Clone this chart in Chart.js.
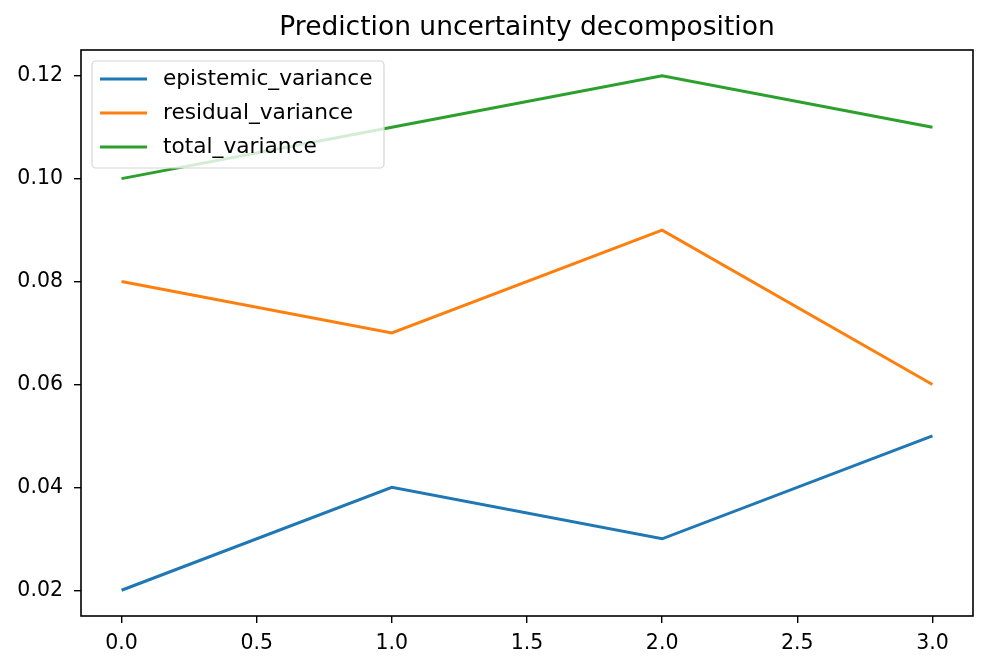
<!DOCTYPE html>
<html>
<head>
<meta charset="utf-8">
<script src="https://cdn.jsdelivr.net/npm/chart.js@4/dist/chart.umd.min.js"></script>
<style>
  html, body { margin: 0; padding: 0; background: #fff; }
  #wrap { width: 989px; height: 670px; }
</style>
</head>
<body>
<div id="wrap"><canvas id="chart"></canvas></div>
<script>
const xValues = [0, 1, 2, 3];
const epistemic = [0.02, 0.04, 0.03, 0.05];
const residual = [0.08, 0.07, 0.09, 0.06];
const total = [0.10, 0.11, 0.12, 0.11];
const xTicks = [0, 0.5, 1, 1.5, 2, 2.5, 3];
const yTicks = [0.02, 0.04, 0.06, 0.08, 0.10, 0.12];

const FONT = 'DejaVu Sans';

const toPoints = (ys) => ys.map((y, i) => ({ x: xValues[i], y: y }));

// frame on all four sides + legend box inside the plot, matplotlib style
const framePlugin = {
  id: 'frame',
  afterDraw(chart) {
    const { ctx, chartArea: a } = chart;
    ctx.save();
    ctx.strokeStyle = '#000';
    ctx.lineWidth = 1.6;
    ctx.strokeRect(a.left, a.top, a.right - a.left, a.bottom - a.top);

    const bx = a.left + 11, by = a.top + 11, bw = 292, bh = 107;
    ctx.fillStyle = 'rgba(255,255,255,0.8)';
    ctx.strokeStyle = '#d6d6d6';
    ctx.lineWidth = 1.2;
    ctx.beginPath();
    ctx.roundRect(bx, by, bw, bh, 4);
    ctx.fill();
    ctx.stroke();

    ctx.font = '21.7px ' + FONT;
    ctx.textBaseline = 'middle';
    chart.data.datasets.forEach((ds, i) => {
      const y = by + 18 + i * 34;
      ctx.strokeStyle = ds.borderColor;
      ctx.lineWidth = 3;
      ctx.beginPath();
      ctx.moveTo(bx + 8, y);
      ctx.lineTo(bx + 55, y);
      ctx.stroke();
      ctx.fillStyle = '#000';
      ctx.fillText(ds.label, bx + 71, y);
    });
    ctx.restore();
  }
};

new Chart(document.getElementById('chart'), {
  type: 'line',
  data: {
    datasets: [
      { label: 'epistemic_variance', data: toPoints(epistemic), borderColor: '#1f77b4' },
      { label: 'residual_variance', data: toPoints(residual), borderColor: '#ff7f0e' },
      { label: 'total_variance', data: toPoints(total), borderColor: '#2ca02c' },
    ],
  },
  options: {
    responsive: true,
    maintainAspectRatio: false,
    animation: false,
    layout: { padding: { top: 0, right: 16, left: 0, bottom: 0 } },
    elements: {
      line: { borderWidth: 3, tension: 0 },
      point: { radius: 0, hoverRadius: 0 },
    },
    plugins: {
      legend: { display: false },
      tooltip: { enabled: false },
      title: {
        display: true,
        fullSize: false,
        text: 'Prediction uncertainty decomposition',
        color: '#000',
        font: { family: FONT, size: 26.5, weight: 'normal', lineHeight: 1.2 },
        padding: { top: 12.5, bottom: 5.7 },
      },
    },
    scales: {
      x: {
        type: 'linear',
        min: -0.15,
        max: 3.15,
        afterBuildTicks: (scale) => { scale.ticks = xTicks.map((v) => ({ value: v })); },
        afterFit: (scale) => { scale.height = 54; },
        grid: { drawOnChartArea: false, drawTicks: true, tickLength: 7, color: '#000', lineWidth: 1.4 },
        border: { display: false },
        ticks: {
          color: '#000',
          padding: 8,
          maxRotation: 0,
          font: { family: FONT, size: 20.5 },
          callback: (v) => Number(v).toFixed(1),
        },
      },
      y: {
        min: 0.015,
        max: 0.125,
        afterBuildTicks: (scale) => { scale.ticks = yTicks.map((v) => ({ value: v })); },
        afterFit: (scale) => { scale.width = 81; },
        grid: { drawOnChartArea: false, drawTicks: true, tickLength: 7, color: '#000', lineWidth: 1.4 },
        border: { display: false },
        ticks: {
          color: '#000',
          padding: 11,
          font: { family: FONT, size: 20.5 },
          callback: (v) => Number(v).toFixed(2),
        },
      },
    },
  },
  plugins: [framePlugin],
});
</script>
</body>
</html>
